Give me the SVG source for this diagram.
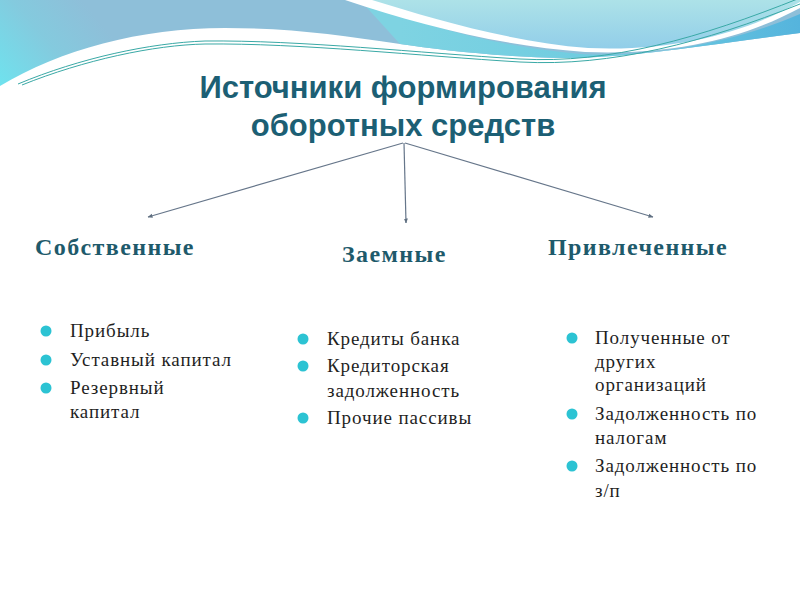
<svg xmlns="http://www.w3.org/2000/svg" width="800" height="600" viewBox="0 0 800 600">
<defs>
<linearGradient id="gA" x1="0" y1="85" x2="90" y2="10" gradientUnits="userSpaceOnUse">
<stop offset="0" stop-color="#6fe2ee"/><stop offset="0.55" stop-color="#84cade"/><stop offset="1" stop-color="#8ebfd9"/>
</linearGradient>
<linearGradient id="gB" x1="0" y1="0" x2="0" y2="55" gradientUnits="userSpaceOnUse">
<stop offset="0" stop-color="#ade2e8"/><stop offset="1" stop-color="#8ecbe9"/>
</linearGradient>
<linearGradient id="gC" x1="400" y1="0" x2="800" y2="0" gradientUnits="userSpaceOnUse">
<stop offset="0" stop-color="#7ed3e2"/><stop offset="0.6" stop-color="#6ccbe0"/><stop offset="1" stop-color="#55b4dd"/>
</linearGradient>
<marker id="ah" viewBox="0 0 10 10" refX="9" refY="5" markerWidth="5" markerHeight="5" orient="auto" markerUnits="userSpaceOnUse">
<path d="M0,1 L10,5 L0,9 Z" fill="#5f6f80"/>
</marker>
<style>
.title{font-family:"Liberation Sans",Arial,sans-serif;font-weight:bold;font-size:31px;fill:#1c5f74;text-anchor:middle}
.head{font-family:"Liberation Serif","Times New Roman",serif;font-weight:bold;font-size:24px;fill:#1e5a6b;letter-spacing:1.4px}
.item{font-family:"Liberation Serif","Times New Roman",serif;font-size:19px;fill:#1f1f1f;letter-spacing:0.9px}
.dot{fill:#2cc3d3}
.conn{stroke:#66768a;stroke-width:1.2;fill:none;marker-end:url(#ah)}
.tl{stroke:#3aa9a6;stroke-width:1;fill:none}
</style>
</defs>
<rect width="800" height="600" fill="#ffffff"/>
<g id="header">
<path d="M0,0 H800 V33 C700,46 630,58 565,58 C500,57 440,50 400,44 C340,35 290,28 225,28 C140,28 60,50 0,86 Z" fill="url(#gA)"/>
<path d="M360,0 C430,28 500,47 580,54 C660,58 740,40 800,14 V33 C700,46 630,58 565,58 C500,57 440,50 400,44 Z" fill="url(#gC)"/>
<path d="M345,0 C420,25 500,46 585,52 C680,56 750,35 800,8 V0 Z" fill="#ffffff"/>
<path d="M372,0 C430,18 510,42 588,48 C680,52 750,30 800,2 V0 Z" fill="url(#gB)"/>
<path class="tl" d="M18,84 C80,58 150,43 205,41 C300,40 420,53 520,59 C610,64 700,38 800,-2"/>
<path class="tl" d="M22,85 C84,60 154,45 205,44 C300,43 420,56 520,62 C612,67 705,42 800,4"/>
</g>
<g id="title">
<text class="title" x="403" y="98">Источники формирования</text>
<text class="title" x="403" y="136">оборотных средств</text>
</g>
<g id="connectors">
<line class="conn" x1="403" y1="143" x2="148" y2="217"/>
<line class="conn" x1="404" y1="143" x2="406" y2="223"/>
<line class="conn" x1="405" y1="143" x2="653" y2="217"/>
</g>
<g id="own">
<text class="head" x="35" y="255">Собственные</text>
<circle class="dot" cx="46" cy="331" r="5.5"/>
<text class="item" x="70" y="337">Прибыль</text>
<circle class="dot" cx="46" cy="360" r="5.5"/>
<text class="item" x="70" y="366">Уставный капитал</text>
<circle class="dot" cx="46" cy="388" r="5.5"/>
<text class="item" x="70" y="394">Резервный</text>
<text class="item" x="70" y="418">капитал</text>
</g>
<g id="borrowed">
<text class="head" x="342" y="262">Заемные</text>
<circle class="dot" cx="303" cy="339" r="5.5"/>
<text class="item" x="327" y="345">Кредиты банка</text>
<circle class="dot" cx="303" cy="366" r="5.5"/>
<text class="item" x="327" y="372">Кредиторская</text>
<text class="item" x="327" y="397">задолженность</text>
<circle class="dot" cx="303" cy="418" r="5.5"/>
<text class="item" x="327" y="424">Прочие пассивы</text>
</g>
<g id="attracted">
<text class="head" x="548" y="255">Привлеченные</text>
<circle class="dot" cx="572" cy="338" r="5.5"/>
<text class="item" x="595" y="344">Полученные от</text>
<text class="item" x="595" y="368">других</text>
<text class="item" x="595" y="391">организаций</text>
<circle class="dot" cx="572" cy="414" r="5.5"/>
<text class="item" x="595" y="420">Задолженность по</text>
<text class="item" x="595" y="444">налогам</text>
<circle class="dot" cx="572" cy="466" r="5.5"/>
<text class="item" x="595" y="472">Задолженность по</text>
<text class="item" x="595" y="497">з/п</text>
</g>
</svg>
